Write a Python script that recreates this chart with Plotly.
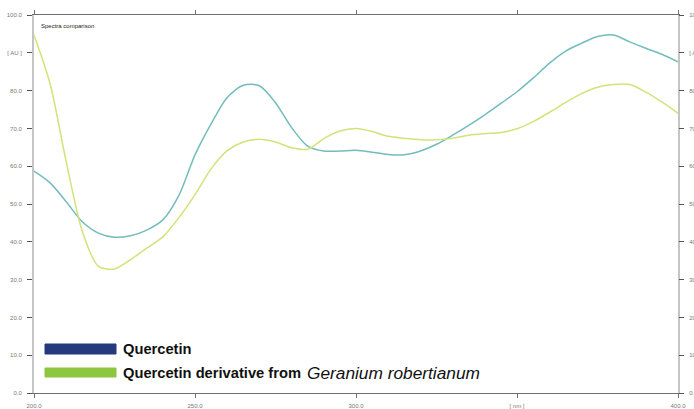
import plotly.graph_objects as go

wavelength = [200, 205, 210, 215, 220, 225, 230, 235, 240, 245, 250, 255, 260, 265, 270, 275, 280,
              285, 290, 295, 300, 305, 310, 315, 320, 325, 330, 335, 340, 345, 350, 355, 360, 365,
              370, 375, 380, 385, 390, 395, 400]

quercetin = [58.7, 55.6, 50.6, 45.3, 42.3, 41.2, 41.6, 43.1, 45.8, 52.3, 63.0, 71.2, 78.2, 81.4,
             81.3, 76.8, 70.2, 65.3, 64.0, 64.0, 64.2, 63.7, 63.1, 63.0, 64.0, 65.8, 68.2, 70.8,
             73.6, 76.6, 79.7, 83.3, 87.2, 90.4, 92.5, 94.3, 94.7, 92.9, 91.2, 89.6, 87.6]

derivative = [94.7, 81.8, 61.2, 42.8, 33.5, 32.8, 35.3, 38.3, 41.3, 46.4, 52.5, 59.3, 64.1, 66.4,
              67.1, 66.4, 64.9, 64.5, 67.3, 69.3, 70.0, 69.2, 67.9, 67.4, 67.0, 67.0, 67.4, 68.2,
              68.6, 68.9, 69.9, 71.8, 74.2, 76.8, 79.2, 80.9, 81.6, 81.6, 79.6, 77.0, 74.0]

y_ticks = [0, 10, 20, 30, 40, 50, 60, 70, 80, 90, 100]
y_labels = ["0.0", "10.0", "20.0", "30.0", "40.0", "50.0", "60.0", "70.0", "80.0", "[ AU ]", "100.0"]
x_ticks = [200, 250, 300, 350, 400]
x_labels = ["200.0", "250.0", "300.0", "[ nm ]", "400.0"]

legend_names = ["Quercetin", "Quercetin derivative from "]
legend_italic = "Geranium robertianum"
legend_colors = ["#253a7d", "#8dc63f"]

fig = go.Figure()
fig.add_trace(go.Scatter(x=wavelength, y=quercetin, mode="lines", name="Quercetin",
                         line=dict(color="#74bcbc", width=1.5, shape="spline", smoothing=0.8),
                         showlegend=False))
fig.add_trace(go.Scatter(x=wavelength, y=derivative, mode="lines", name="Quercetin derivative",
                         line=dict(color="#d3e27a", width=1.5, shape="spline", smoothing=0.8),
                         showlegend=False, yaxis="y2"))

tickfont = dict(family="Liberation Sans, Arial", size=6, color="#777777")

fig.update_layout(
    width=694, height=409,
    margin=dict(l=34, r=16, t=15, b=16),
    paper_bgcolor="white", plot_bgcolor="white",
    xaxis=dict(range=[200, 400], tickvals=x_ticks, ticktext=x_labels, showgrid=False,
               zeroline=False, showline=True, linecolor="#707070", linewidth=1, mirror="ticks",
               ticks="outside", ticklen=4, tickcolor="#707070", tickfont=tickfont,
               ticklabelstandoff=3, automargin=False),
    yaxis=dict(range=[0, 100], tickvals=y_ticks, ticktext=y_labels, showgrid=False,
               zeroline=False, showline=True, linecolor="#c4c4c4", linewidth=2, mirror=True,
               ticks="outside", ticklen=5, tickcolor="#555555", tickfont=tickfont,
               ticklabelstandoff=4, automargin=False),
    yaxis2=dict(range=[0, 100], tickvals=y_ticks, ticktext=y_labels, showgrid=False,
                zeroline=False, showline=False, overlaying="y", side="right",
                ticks="outside", ticklen=5, tickcolor="#555555", tickfont=tickfont,
                ticklabelstandoff=4, automargin=False),
)

fig.add_annotation(xref="paper", yref="paper", x=0.008, y=0.985, xanchor="left", yanchor="top",
                   text="Spectra comparison", showarrow=False,
                   font=dict(family="Liberation Sans, Arial", size=6, color="#222222"))

# manual legend
bar_y = [(344, 354), (368, 377)]
for (y0, y1), col in zip(bar_y, legend_colors):
    fig.add_shape(type="rect", xref="paper", yref="paper",
                  x0=(45 - 34) / 644, x1=(116 - 34) / 644,
                  y0=(393 - y1) / 378, y1=(393 - y0) / 378,
                  fillcolor=col, line=dict(color=col, width=1))

fig.add_annotation(xref="paper", yref="paper", x=(121 - 34) / 644, y=(393 - 349) / 378,
                   xanchor="left", yanchor="middle", showarrow=False,
                   text="<b>" + legend_names[0] + "</b>",
                   font=dict(family="Liberation Sans, Arial", size=14.7, color="#111111"))
fig.add_annotation(xref="paper", yref="paper", x=(121 - 34) / 644, y=(393 - 372.5) / 378,
                   xanchor="left", yanchor="middle", showarrow=False,
                   text="<b>" + legend_names[1] + "</b>",
                   font=dict(family="Liberation Sans, Arial", size=14.7, color="#111111"))
fig.add_annotation(xref="paper", yref="paper", x=(305 - 34) / 644, y=(393 - 372.5) / 378,
                   xanchor="left", yanchor="middle", showarrow=False,
                   text="<i>" + legend_italic + "</i>",
                   font=dict(family="Liberation Sans, Arial", size=17.3, color="#111111"))

fig.write_html("out.html", config={"displayModeBar": False},
               post_script="document.body.style.margin='0';document.body.style.overflow='hidden';")
